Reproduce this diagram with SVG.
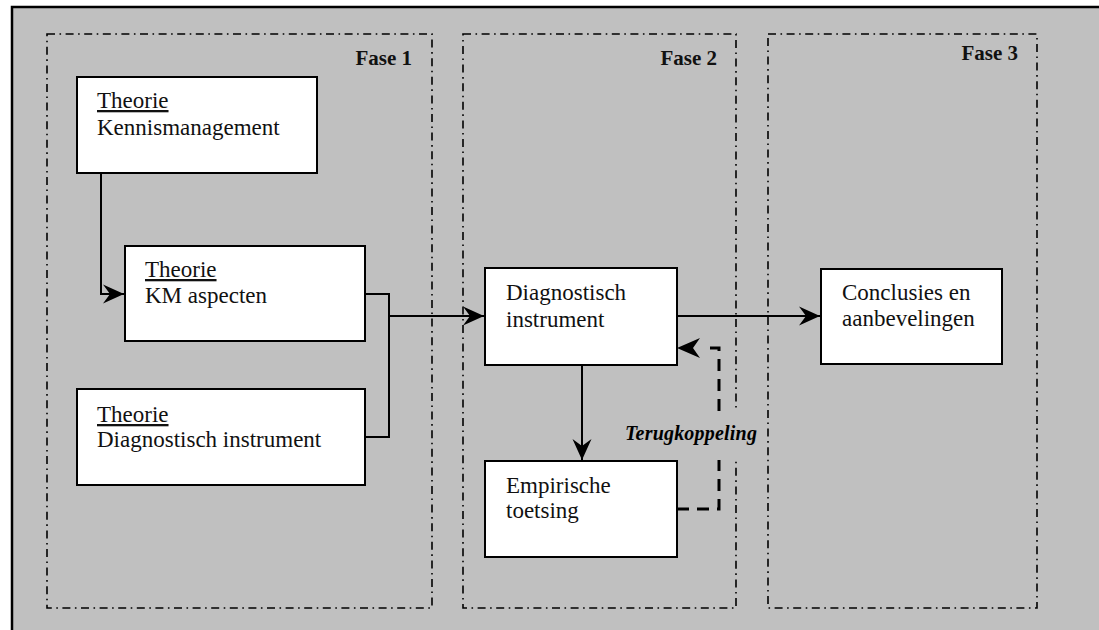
<svg xmlns="http://www.w3.org/2000/svg" width="1099" height="630" viewBox="0 0 1099 630">
<defs>
<style>
.box{fill:#fff;stroke:#000;stroke-width:2}
.phase{fill:none;stroke:#000;stroke-width:1.6;stroke-dasharray:8 4.5 1.6 4.5}
.t{font-family:"Liberation Serif","Times New Roman",serif;font-size:23px;fill:#111}
.u{text-decoration:underline}
.ph{font-family:"Liberation Serif","Times New Roman",serif;font-size:21px;font-weight:bold;fill:#111;text-anchor:end}
.con{fill:none;stroke:#000;stroke-width:2}
.dash{fill:none;stroke:#000;stroke-width:3;stroke-dasharray:12 8}
.fb{font-family:"Liberation Serif","Times New Roman",serif;font-size:20px;font-weight:bold;font-style:italic;fill:#000;letter-spacing:0.2px}
</style>
<marker id="ah" markerUnits="userSpaceOnUse" viewBox="0 -10 21 20" refX="21" refY="0" markerWidth="21" markerHeight="20" orient="auto">
<path d="M0,-9.5 L21,0 L0,9.5 L7,0 z" fill="#000"/>
</marker>
</defs>
<rect x="0" y="0" width="1099" height="630" fill="#fff"/>
<rect x="12" y="7" width="1100" height="640" fill="#c0c0c0" stroke="#000" stroke-width="2.5"/>

<g id="fase1">
<rect class="phase" x="47" y="34" width="385" height="574"/>
<text class="ph" x="412" y="65">Fase 1</text>
</g>
<g id="fase2">
<rect class="phase" x="463" y="34" width="273" height="574"/>
<text class="ph" x="717" y="65">Fase 2</text>
</g>
<g id="fase3">
<rect class="phase" x="768" y="34" width="269" height="574"/>
<text class="ph" x="1018" y="60">Fase 3</text>
</g>

<g id="connectors">
<path class="con" d="M101,173 V294 H124" marker-end="url(#ah)"/>
<path class="con" d="M365,294 H389 V437 H365"/>
<path class="con" d="M389,316 H484" marker-end="url(#ah)"/>
<path class="con" d="M677,316 H820" marker-end="url(#ah)"/>
<path class="con" d="M582,365 V460" marker-end="url(#ah)"/>
<path class="dash" d="M677,509 H719 V348 H707"/>
<path d="M677,348 L700,338 L693,348 L700,358 z" fill="#000"/>
</g>

<g id="label-terugkoppeling">
<rect x="622" y="411" width="140" height="49" fill="#c0c0c0"/>
<text class="fb" x="625" y="440">Terugkoppeling</text>
</g>

<g id="n-kennis">
<rect class="box" x="77" y="77" width="240" height="96"/>
<text class="t" x="97" y="108"><tspan class="u">Theorie</tspan></text>
<text class="t" x="97" y="135">Kennismanagement</text>
</g>
<g id="n-km">
<rect class="box" x="125" y="246" width="240" height="95"/>
<text class="t" x="145" y="277"><tspan class="u">Theorie</tspan></text>
<text class="t" x="145" y="303">KM aspecten</text>
</g>
<g id="n-diag-theorie">
<rect class="box" x="77" y="389" width="288" height="96"/>
<text class="t" x="97" y="422"><tspan class="u">Theorie</tspan></text>
<text class="t" x="97" y="447">Diagnostisch instrument</text>
</g>
<g id="n-diag">
<rect class="box" x="485" y="268" width="192" height="97"/>
<text class="t" x="506" y="300">Diagnostisch</text>
<text class="t" x="506" y="327">instrument</text>
</g>
<g id="n-emp">
<rect class="box" x="485" y="461" width="192" height="96"/>
<text class="t" x="506" y="493">Empirische</text>
<text class="t" x="506" y="518">toetsing</text>
</g>
<g id="n-concl">
<rect class="box" x="821" y="269" width="181" height="95"/>
<text class="t" x="842" y="300">Conclusies en</text>
<text class="t" x="842" y="326">aanbevelingen</text>
</g>
</svg>
